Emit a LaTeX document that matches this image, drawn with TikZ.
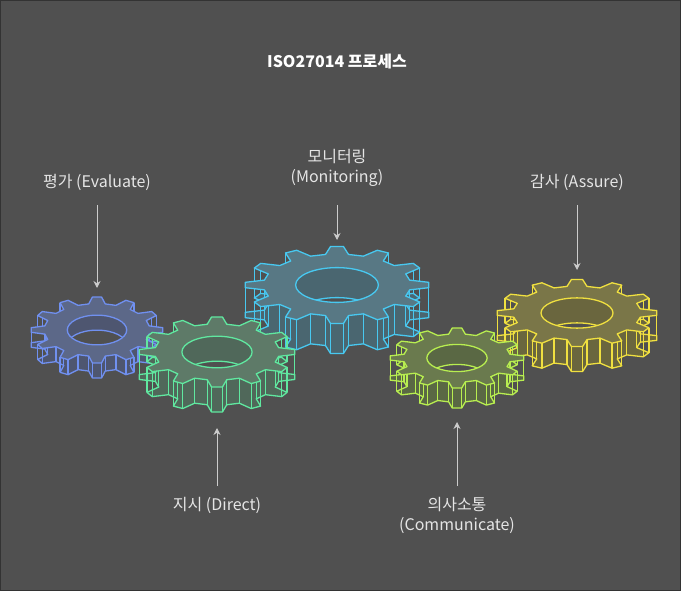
\documentclass[tikz,border=0pt]{standalone}
\usepackage{fontspec}
\setmainfont{Noto Sans CJK KR}
\usetikzlibrary{arrows.meta}
\definecolor{bS}{HTML}{7090F0}\definecolor{bF}{HTML}{5C6888}\definecolor{bD}{HTML}{4E5670}
\definecolor{cS}{HTML}{48C8F0}\definecolor{cF}{HTML}{587884}\definecolor{cD}{HTML}{4A6670}
\definecolor{yS}{HTML}{F0E040}\definecolor{yF}{HTML}{7A7648}\definecolor{yD}{HTML}{6A663E}
\definecolor{gS}{HTML}{60E8A0}\definecolor{gF}{HTML}{5E7A68}\definecolor{gD}{HTML}{50685A}
\definecolor{lS}{HTML}{B8EE50}\definecolor{lF}{HTML}{6A7A4E}\definecolor{lD}{HTML}{5A6844}
\definecolor{bg}{HTML}{505050}
\begin{document}
\begin{tikzpicture}[x=1pt,y=-1pt,
  lbl/.style={text=white!90!black,font=\fontsize{16}{20}\selectfont,align=center},
  arr/.style={draw=white!80!black,line width=1pt,-{Stealth[length=7pt,width=7pt]}}]
\fill[bg] (0,0) rectangle (681,591);
\draw[black!80] (0.5,0.5) rectangle (680.5,590.5);
\useasboundingbox (0,0) rectangle (681,591);
\newcommand\mygear[8]{% cx cy R ys h stroke fill dark
\begin{scope}[shift={(#1,#2)},yscale=#4,line width=1.3pt,line join=round]
 \pgfmathsetmacro\rr{0.8*#3}
 \pgfmathsetmacro\hh{#5/#4}
 \begin{scope}[yshift=-\hh pt]
 \filldraw[fill=#8,draw=#6] (-9:\rr) \foreach \i in {0,...,11}{ -- ({\i*30-9}:\rr) -- ({\i*30-4}:#3) -- ({\i*30+4}:#3) -- ({\i*30+9}:\rr) -- ({\i*30+21}:\rr)} -- cycle;
 \end{scope}
 \foreach \i in {0,...,11}{
  \draw[#6] ({\i*30-9}:\rr) -- ([yshift=-\hh pt]{\i*30-9}:\rr);
  \draw[#6] ({\i*30-4}:#3) -- ([yshift=-\hh pt]{\i*30-4}:#3);
  \draw[#6] ({\i*30+4}:#3) -- ([yshift=-\hh pt]{\i*30+4}:#3);
  \draw[#6] ({\i*30+9}:\rr) -- ([yshift=-\hh pt]{\i*30+9}:\rr);}
 \filldraw[fill=#7,draw=#6] (-9:\rr) \foreach \i in {0,...,11}{ -- ({\i*30-9}:\rr) -- ({\i*30-4}:#3) -- ({\i*30+4}:#3) -- ({\i*30+9}:\rr) -- ({\i*30+21}:\rr)} -- cycle;
 \begin{scope}
  \clip (0,0) ellipse ({0.45*#3} and {0.45*#3});
  \fill[#8] (0,0) ellipse ({0.45*#3} and {0.45*#3});
  \fill[bg,draw=#6] ([yshift=-\hh pt]0,0) ellipse ({0.45*#3} and {0.45*#3});
 \end{scope}
 \draw[#6] (0,0) ellipse ({0.45*#3} and {0.45*#3});
\end{scope}}
\mygear{97}{330}{66}{0.5}{15}{bS}{bF}{bD}
\mygear{337}{285}{92}{0.42}{30}{cS}{cF}{cD}
\mygear{577}{313}{80}{0.42}{25}{yS}{yF}{yD}
\mygear{217}{352}{78}{0.45}{25}{gS}{gF}{gD}
\mygear{457}{358}{67}{0.45}{20}{lS}{lF}{lD}
\node[lbl,font=\bfseries\fontsize{16}{20}\selectfont,text=white] (t) at (337,62) {ISO27014 프로세스};
\node[lbl] (e) at (97,182) {평가 (Evaluate)};
\node[lbl] (m) at (337,168) {모니터링\\(Monitoring)};
\node[lbl] (a) at (577,182) {감사 (Assure)};
\node[lbl] (d) at (217,505) {지시 (Direct)};
\node[lbl] (c) at (457,515) {의사소통\\(Communicate)};
\coordinate (e2) at (97,288);
\coordinate (m2) at (337,240);
\coordinate (a2) at (577,270);
\coordinate (d2) at (217,428);
\coordinate (c2) at (457,422);
\draw[arr] (97,205) -- (e2);
\draw[arr] (337,205) -- (m2);
\draw[arr] (577,205) -- (a2);
\draw[arr] (217,486) -- (d2);
\draw[arr] (457,486) -- (c2);
\end{tikzpicture}
\end{document}
